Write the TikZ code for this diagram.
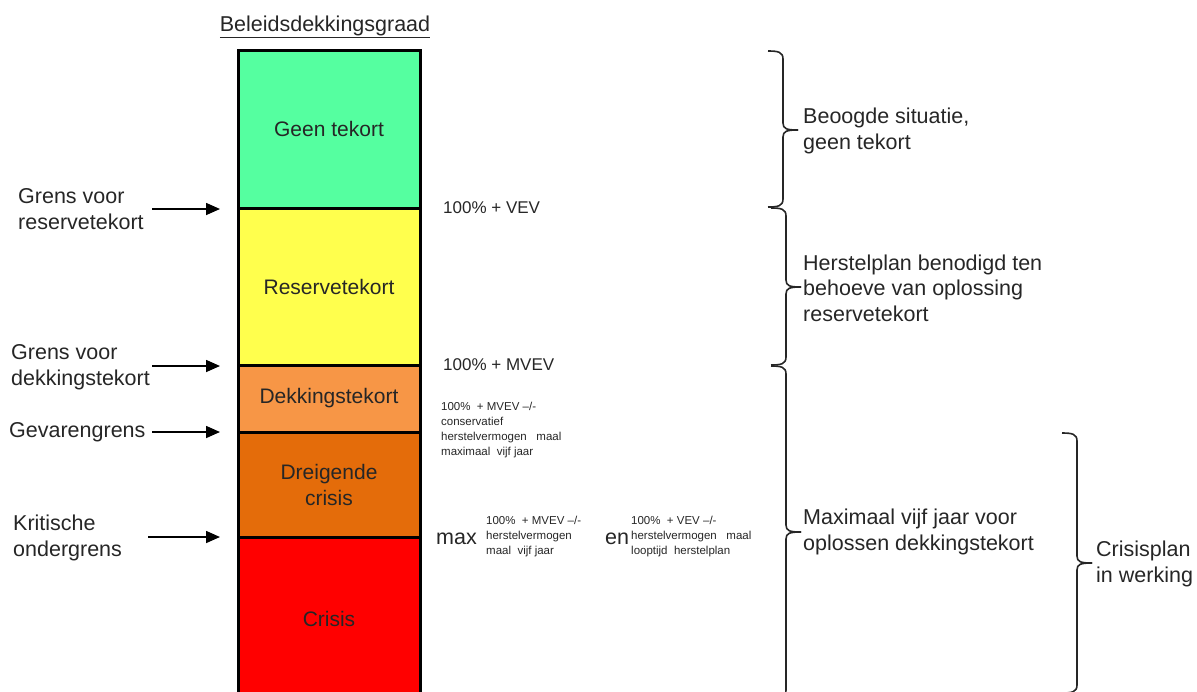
\documentclass[tikz,border=0pt]{standalone}
\usepackage{fontspec}
\setmainfont{Liberation Sans}
\usetikzlibrary{arrows.meta}
\definecolor{cgreen}{HTML}{55FFA0}
\definecolor{cyellow}{HTML}{FFFF4D}
\definecolor{corange}{HTML}{F79646}
\definecolor{cdark}{HTML}{E46C0A}
\definecolor{cred}{HTML}{FF0000}
\definecolor{txt}{HTML}{262626}
\newcommand\mybrace[4]{%
  \draw[bracel] (#1-15,#2) .. controls (#1-5,#2) and (#1,#2+1) .. (#1,#2+8) -- (#1,#3-7) .. controls (#1,#3-1) and (#1+4,#3) .. (#1+15,#3);
  \draw[bracel] (#1+15,#3) .. controls (#1+4,#3) and (#1,#3+1) .. (#1,#3+7) -- (#1,#4-8) .. controls (#1,#4-1) and (#1-5,#4) .. (#1-15,#4);}
\begin{document}
\begin{tikzpicture}[x=1pt,y=-1pt,
  band/.style={draw=black,line width=3pt,minimum width=182pt,inner sep=0pt,
    font=\fontsize{21}{26}\selectfont,text=txt,align=center},
  big/.style={font=\fontsize{21.5}{25.5}\selectfont,text=txt,inner sep=0pt,align=left,anchor=west},
  mid/.style={font=\fontsize{17}{20}\selectfont,text=txt,inner sep=0pt,anchor=west},
  tiny/.style={font=\fontsize{11.5}{15}\selectfont,text=txt,inner sep=0pt,align=left,anchor=west},
  arr/.style={-{Triangle[length=14pt,width=12pt]},line width=1.6pt,draw=black},
  bracel/.style={line width=1.6pt,draw=black!85}
]
\useasboundingbox (0,0) rectangle (1197,691);
\begin{scope}
\clip (0,0) rectangle (1197,691);
% title
\node[font=\fontsize{21.5}{25}\selectfont,text=txt,inner sep=0pt] (title) at (325,27) {\underline{Beleidsdekkingsgraad}};
% bands
\node[band,fill=cgreen,minimum height=157.5pt] (geen) at (329,129.25) {Geen tekort};
\node[band,fill=cyellow,minimum height=157pt] (reserve) at (329,286.5) {Reservetekort};
\node[band,fill=corange,minimum height=67pt] (dekking) at (329,398.5) {Dekkingstekort};
\node[band,fill=cdark,minimum height=105pt] (dreig) at (329,484.5) {Dreigende\\crisis};
\node[band,fill=cred,minimum height=163pt] (crisis) at (329,618.5) {Crisis};
\end{scope}
% left labels and arrows
\node[big] (l1) at (18,209) {Grens voor\\reservetekort};
\node[big] (l2) at (11,367) {Grens voor\\dekkingstekort};
\node[big] (l3) at (9,432) {Gevarengrens};
\node[big] (l4) at (13,538) {Kritische\\ondergrens};
\coordinate (a1s) at (152,209); \coordinate (a1e) at (220,209);
\coordinate (a2s) at (152,366); \coordinate (a2e) at (220,366);
\coordinate (a3s) at (152,432); \coordinate (a3e) at (220,432);
\coordinate (a4s) at (148,537); \coordinate (a4e) at (220,537);
\draw[arr] (a1s) -- (a1e);
\draw[arr] (a2s) -- (a2e);
\draw[arr] (a3s) -- (a3e);
\draw[arr] (a4s) -- (a4e);
% boundary values
\node[mid] (vev) at (443,208) {100\% + VEV};
\node[mid] (mvev) at (443,365) {100\% + MVEV};
\node[tiny] (gev) at (441,430) {100\%\ \ + MVEV --/-\\conservatief\\herstelvermogen\ \ \ maal\\maximaal\ \ vijf jaar};
\node[font=\fontsize{21.5}{25}\selectfont,text=txt,inner sep=0pt,anchor=west] (max) at (436,539) {max};
\node[tiny] (k1) at (486,537) {100\%\ \ + MVEV --/-\\herstelvermogen\\maal\ \ vijf jaar};
\node[font=\fontsize{21.5}{25}\selectfont,text=txt,inner sep=0pt,anchor=west] (en) at (605,539) {en};
\node[tiny] (k2) at (631,537) {100\%\ \ + VEV --/-\\herstelvermogen\ \ \ maal\\looptijd\ \ herstelplan};
% braces
\begin{scope}
\clip (0,0) rectangle (1197,691);
\mybrace{783}{51}{130}{207}
\mybrace{786}{208}{287}{365}
\mybrace{786}{366}{532}{698}
\mybrace{1077}{433}{563}{693}
\end{scope}
\node[big] (r1) at (803,131) {Beoogde situatie,\\geen tekort};
\node[big] (r2) at (803,288) {Herstelplan benodigd ten\\behoeve van oplossing\\reservetekort};
\node[big] (r3) at (803,532) {Maximaal vijf jaar voor\\oplossen dekkingstekort};
\node[big] (r4) at (1096,564) {Crisisplan\\in werking};
\end{tikzpicture}
\end{document}
